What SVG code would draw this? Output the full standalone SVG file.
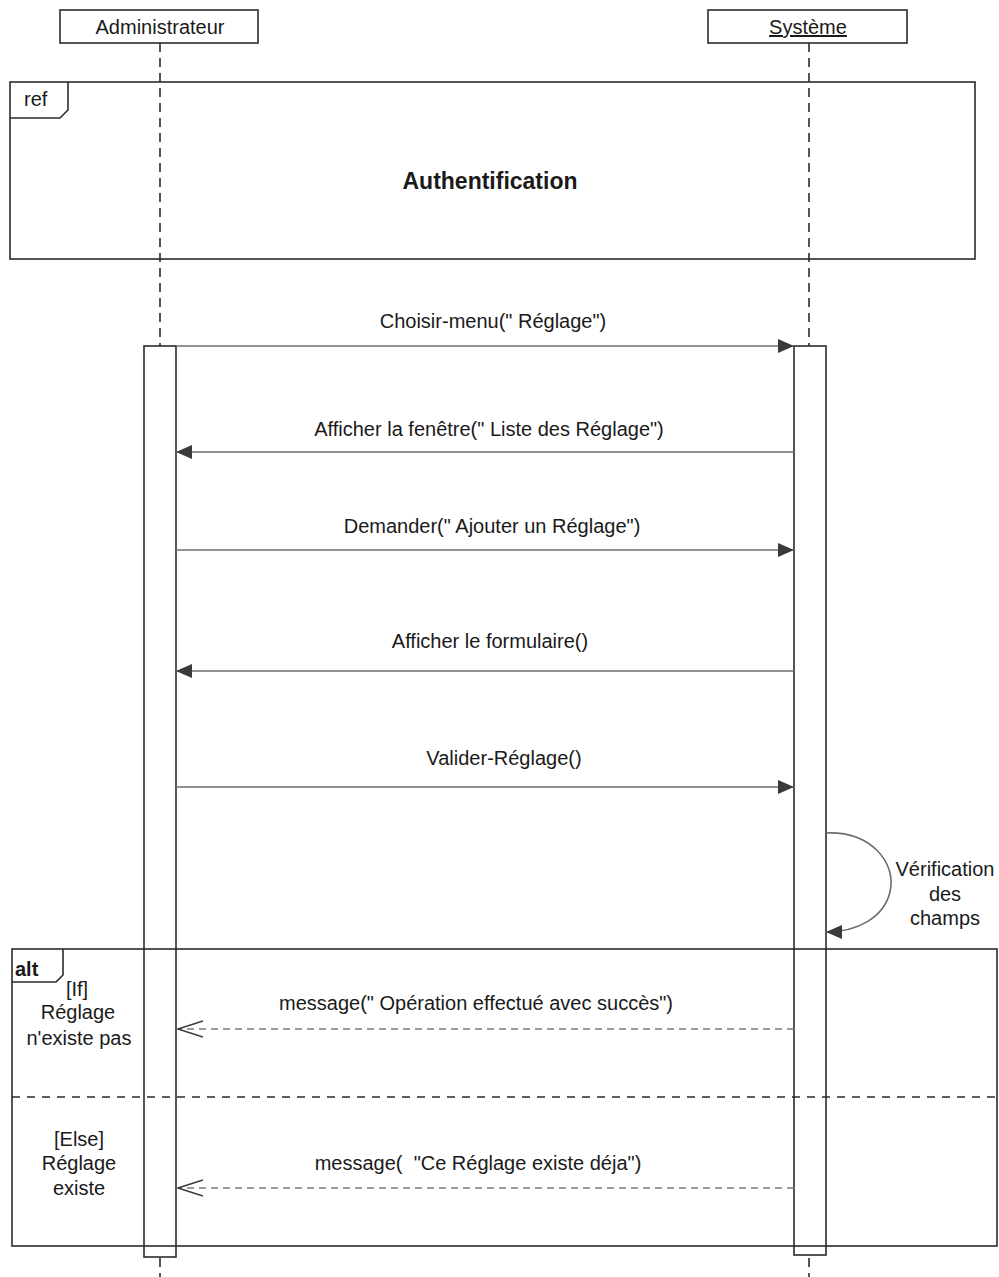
<svg xmlns="http://www.w3.org/2000/svg" width="999" height="1277" viewBox="0 0 999 1277">
  <style>
    text { font-family: "Liberation Sans", Arial, sans-serif; font-size: 20px; fill: #1a1a1a; }
    .mid { text-anchor: middle; }
    .frame { fill: none; stroke: #2b2b2b; stroke-width: 1.6; }
    .box { fill: #fff; stroke: #2b2b2b; stroke-width: 1.6; }
    .life { stroke: #2b2b2b; stroke-width: 1.6; stroke-dasharray: 9 6; fill: none; }
    .msg { stroke: #6e6e6e; stroke-width: 1.6; fill: none; }
    .reply { stroke: #7a7a7a; stroke-width: 1.4; stroke-dasharray: 7 5; fill: none; }
    .sep { stroke: #2b2b2b; stroke-width: 1.6; stroke-dasharray: 8 7; fill: none; }
  </style>
  <defs>
    <marker id="filled" viewBox="0 0 16 14" refX="16" refY="7" markerWidth="16" markerHeight="14" markerUnits="userSpaceOnUse" orient="auto">
      <path d="M0,0 L16,7 L0,14 Z" fill="#3a3a3a"/>
    </marker>
    <marker id="open" viewBox="0 0 26 18" refX="25" refY="9" markerWidth="26" markerHeight="18" markerUnits="userSpaceOnUse" orient="auto">
      <path d="M0,1 L25,9 L0,17" fill="none" stroke="#3a3a3a" stroke-width="1.6"/>
    </marker>
  </defs>

  <!-- lifelines -->
  <g id="lifelines">
    <line class="life" x1="160" y1="43" x2="160" y2="1277"/>
    <line class="life" x1="809" y1="43" x2="809" y2="1277"/>
  </g>

  <!-- participants -->
  <g id="administrateur">
    <rect class="box" x="60" y="10" width="198" height="33"/>
    <text class="mid" x="160" y="34">Administrateur</text>
  </g>
  <g id="systeme">
    <rect class="box" x="708" y="10" width="199" height="33"/>
    <text class="mid" x="808" y="34" text-decoration="underline">Système</text>
  </g>

  <!-- interaction use: authentication -->
  <g id="ref-authentification">
    <rect class="frame" x="10" y="82" width="965" height="177"/>
    <path class="frame" d="M10,118 H60 L68,110 V82"/>
    <text x="24" y="106">ref</text>
    <text class="mid" x="490" y="189" font-weight="bold" style="font-size:23px">Authentification</text>
  </g>

  <!-- activation bars -->
  <g id="activation-admin">
    <rect class="box" x="144" y="346" width="32" height="911"/>
  </g>
  <g id="activation-systeme">
    <rect class="box" x="794" y="346" width="32" height="909"/>
  </g>

  <!-- alternative fragment, drawn over the activation bars -->
  <g id="alt-fragment">
    <rect class="frame" x="12" y="949" width="985" height="297"/>
    <path class="frame" d="M12,982 H56 L63,975 V949"/>
    <text x="15" y="976" font-weight="bold">alt</text>
    <line class="sep" x1="12" y1="1097" x2="997" y2="1097"/>
    <text class="mid" x="77" y="996">[If]</text>
    <text class="mid" x="78" y="1019">Réglage</text>
    <text class="mid" x="79" y="1045">n'existe pas</text>
    <text class="mid" x="79" y="1146">[Else]</text>
    <text class="mid" x="79" y="1170">Réglage</text>
    <text class="mid" x="79" y="1195">existe</text>
  </g>

  <!-- messages -->
  <g id="connectors">
    <line class="msg" x1="176" y1="346" x2="794" y2="346" marker-end="url(#filled)"/>
    <text class="mid" x="493" y="328">Choisir-menu(" Réglage")</text>

    <line class="msg" x1="794" y1="452" x2="176" y2="452" marker-end="url(#filled)"/>
    <text class="mid" x="489" y="436">Afficher la fenêtre(" Liste des Réglage")</text>

    <line class="msg" x1="176" y1="550" x2="794" y2="550" marker-end="url(#filled)"/>
    <text class="mid" x="492" y="533">Demander(" Ajouter un Réglage")</text>

    <line class="msg" x1="794" y1="671" x2="176" y2="671" marker-end="url(#filled)"/>
    <text class="mid" x="490" y="648">Afficher le formulaire()</text>

    <line class="msg" x1="176" y1="787" x2="794" y2="787" marker-end="url(#filled)"/>
    <text class="mid" x="504" y="765">Valider-Réglage()</text>

    <path class="msg" d="M826,833 C870,831 897,862 890,892 C884,917 858,932 826,932" marker-end="url(#filled)"/>
    <text class="mid" x="945" y="876">Vérification</text>
    <text class="mid" x="945" y="901">des</text>
    <text class="mid" x="945" y="925">champs</text>

    <line class="reply" x1="794" y1="1029" x2="178" y2="1029" marker-end="url(#open)"/>
    <text class="mid" x="476" y="1010">message(" Opération effectué avec succès")</text>

    <line class="reply" x1="794" y1="1188" x2="178" y2="1188" marker-end="url(#open)"/>
    <text class="mid" x="478" y="1170">message(&#160; "Ce Réglage existe déja")</text>
  </g>
</svg>
